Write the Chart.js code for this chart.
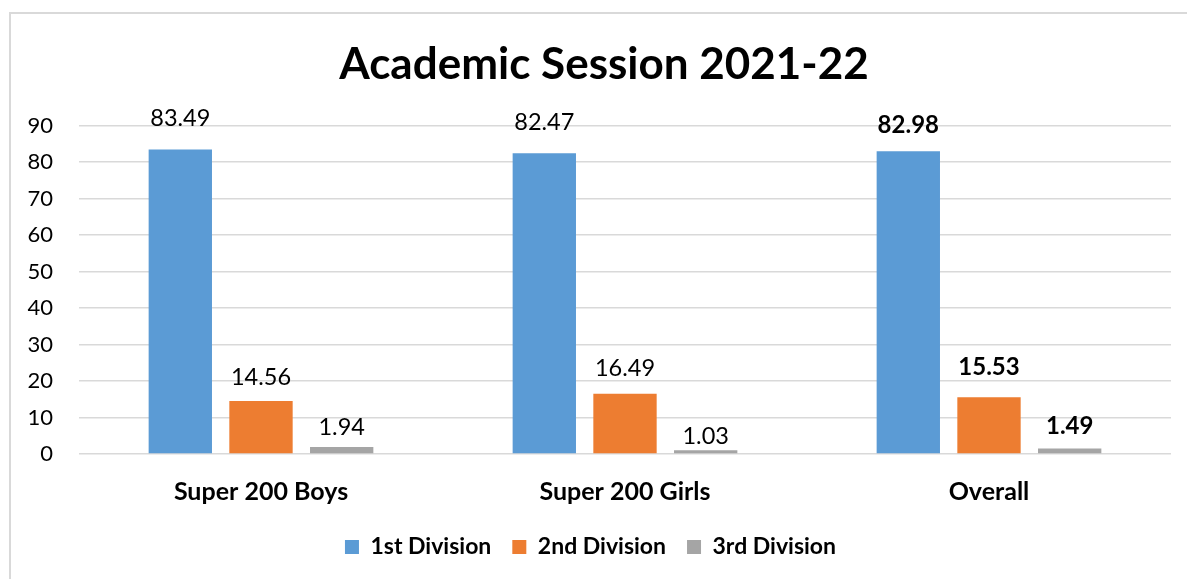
<!DOCTYPE html>
<html>
<head>
<meta charset="utf-8">
<script src="https://cdn.jsdelivr.net/npm/chart.js@4.4.0/dist/chart.umd.min.js"></script>
<style>
    html, body { margin: 0; padding: 0; background: #fff; overflow: hidden; }
    .frame {
        position: absolute; left: 9px; top: 12px; width: 1300px; height: 700px;
        border-left: 2px solid #d9d9d9; border-top: 2px solid #d9d9d9;
    }
    .wrap { position: absolute; left: 0; top: 0; width: 1187px; height: 579px; }
</style>
</head>
<body>
<div class="frame"></div>
<div class="wrap"><canvas id="sessionChart"></canvas></div>
<script>
// 데이터
const categories = ['Super 200 Boys', 'Super 200 Girls', 'Overall'];
const seriesNames = ['1st Division', '2nd Division', '3rd Division'];
const firstDivision = [83.49, 82.47, 82.98];
const secondDivision = [14.56, 16.49, 15.53];
const thirdDivision = [1.94, 1.03, 1.49];
const yTicks = [0, 10, 20, 30, 40, 50, 60, 70, 80, 90];

const seriesColors = ['#5B9BD5', '#ED7D31', '#A5A5A5'];
// 라벨 위치 (막대 위쪽 여백, px)
const labelLift = [[23, 23, 18], [16, 17.6, 22.7], [12, 6.7, 15]];
const FONT = 'Lato, "Open Sans", sans-serif';

// 막대 위 값 라벨
const valueLabels = {
    id: 'valueLabels',
    afterDatasetsDraw(chart) {
        const ctx = chart.ctx;
        ctx.save();
        ctx.fillStyle = '#000';
        ctx.textAlign = 'center';
        ctx.textBaseline = 'alphabetic';
        chart.data.datasets.forEach((ds, di) => {
            chart.getDatasetMeta(di).data.forEach((bar, i) => {
                const bold = i === categories.length - 1;
                ctx.font = (bold ? 'bold 24px ' : '23.5px ') + FONT;
                ctx.fillText(ds.data[i].toFixed(2), bar.x, bar.y - labelLift[di][i]);
            });
        });
        ctx.restore();
    }
};

// 제목 위치 보정 (원본 차트 영역이 오른쪽으로 더 넓음)
const titleShift = {
    id: 'titleShift',
    afterLayout(chart) {
        chart.titleBlock.left = 10;
        chart.titleBlock.right = 1198;
    }
};

new Chart(document.getElementById('sessionChart'), {
    type: 'bar',
    data: {
        labels: categories,
        datasets: [firstDivision, secondDivision, thirdDivision].map((values, i) => ({
            label: seriesNames[i],
            data: values,
            backgroundColor: seriesColors[i],
            borderWidth: 0,
            categoryPercentage: 0.665,
            barPercentage: 0.785
        }))
    },
    options: {
        responsive: true,
        maintainAspectRatio: false,
        animation: false,
        layout: { padding: { left: 10, right: 16, top: 22, bottom: 10.5 } },
        plugins: {
            title: {
                display: true,
                text: 'Academic Session 2021-22',
                color: '#000',
                font: { family: FONT, size: 44, weight: 'bold' },
                padding: { top: 16.6, bottom: 34.3 }
            },
            legend: {
                position: 'bottom',
                labels: {
                    color: '#000',
                    font: { family: FONT, size: 23, weight: 'bold' },
                    boxWidth: 14,
                    boxHeight: 14,
                    padding: 21
                }
            },
            tooltip: { enabled: false }
        },
        scales: {
            x: {
                afterFit(scale) { scale.height = 60.5; },
                grid: { display: false, drawTicks: false },
                border: { display: false },
                ticks: {
                    color: '#000',
                    font: { family: FONT, size: 25, weight: 'bold' },
                    padding: 23
                }
            },
            y: {
                min: 0,
                max: 90,
                afterBuildTicks(scale) {
                    scale.ticks = yTicks.map(v => ({ value: v }));
                },
                afterFit(scale) { scale.width = 69; },
                grid: { color: '#d9d9d9', lineWidth: 1.5, drawTicks: false },
                border: { display: false },
                ticks: {
                    color: '#000',
                    font: { family: FONT, size: 22 },
                    padding: 26
                }
            }
        }
    },
    plugins: [valueLabels, titleShift]
});
</script>
</body>
</html>
